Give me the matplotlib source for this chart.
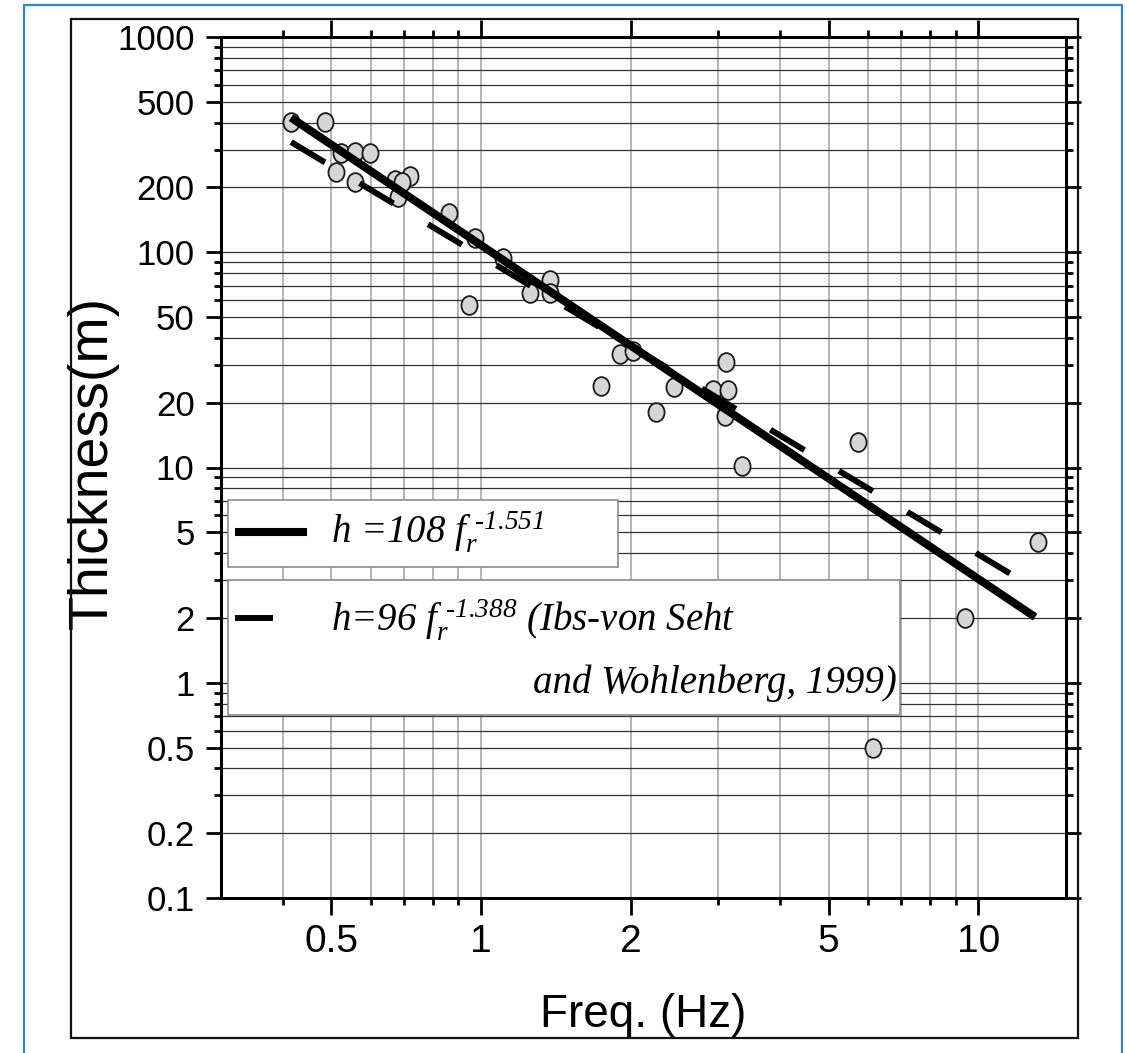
import matplotlib
matplotlib.use('Agg')
import matplotlib.pyplot as plt
import matplotlib.transforms as mtransforms
from matplotlib.path import Path
from matplotlib.patches import Rectangle
from matplotlib.lines import Line2D
from matplotlib.ticker import FixedLocator, FixedFormatter, NullFormatter

plt.rcParams['font.family'] = 'Liberation Sans'
plt.rcParams['mathtext.fontset'] = 'custom'
plt.rcParams['mathtext.rm'] = 'Liberation Serif:italic'
plt.rcParams['mathtext.it'] = 'Liberation Serif:italic'
plt.rcParams['lines.scale_dashes'] = False

# measured resonance frequency vs sediment thickness
freq = [0.415, 0.486, 0.523, 0.559, 0.597, 0.511, 0.559, 0.670, 0.719, 0.695,
        0.681, 0.863, 0.974, 1.106, 0.947, 1.378, 1.252, 1.374, 1.903, 2.02,
        1.74, 2.44, 2.25, 3.11, 2.93, 3.13, 3.10, 3.35, 5.72, 13.2, 9.4, 6.15]
thick = [401, 401, 289, 292, 289, 236, 213, 217, 227, 211,
         181, 152, 117, 94, 57, 74, 64.6, 64.6, 33.6, 34.8,
         24, 23.6, 18.1, 30.9, 23, 23, 17.4, 10.2, 13.2, 4.49, 2.0, 0.497]

# end points of the two power-law lines
fit_f = [0.415, 13.0]
fit_h = [422, 2.02]
ref_f = [0.415, 11.7]
ref_h = [325, 3.17]

fit_label = 'h =108 ' + '$f_r^{\\ \u2010 1.551}$'
ref_label1 = 'h=96 ' + '$f_r^{\\ \u2010 1.388}$' + ' (Ibs-von Seht'
ref_label2 = 'and Wohlenberg, 1999)'

x_major = [0.5, 1, 2, 5, 10]
x_labels = ['0.5', '1', '2', '5', '10']
x_minor = [0.4, 0.6, 0.7, 0.8, 0.9, 3, 4, 6, 7, 8, 9]
y_major = [0.1, 0.2, 0.5, 1, 2, 5, 10, 20, 50, 100, 200, 500, 1000]
y_labels = ['0.1', '0.2', '0.5', '1', '2', '5', '10', '20', '50', '100', '200', '500', '1000']
y_minor = [0.3, 0.4, 0.6, 0.7, 0.8, 0.9, 3, 4, 6, 7, 8, 9,
           30, 40, 60, 70, 80, 90, 300, 400, 600, 700, 800, 900]

W, H = 1129, 1053
fig = plt.figure(figsize=(W / 100, H / 100), dpi=100)


def fx(x):
    return x / W


def fy(y):
    return 1 - y / H


# outer frames
fig.add_artist(Rectangle((fx(24), fy(1060)), fx(1122) - fx(24), fy(5) - fy(1060),
                         transform=fig.transFigure, fill=False, ec='#2f86d8', lw=1.6))
fig.add_artist(Rectangle((fx(71), fy(1038)), fx(1078) - fx(71), fy(19) - fy(1038),
                         transform=fig.transFigure, fill=False, ec='#111111', lw=1.6))

ax = fig.add_axes([fx(221), fy(898), fx(1066) - fx(221), fy(37) - fy(898)])
ax.set_xscale('log')
ax.set_yscale('log')
ax.set_xlim(0.3, 15)
ax.set_ylim(0.1, 1000)

ax.xaxis.set_major_locator(FixedLocator(x_major))
ax.xaxis.set_major_formatter(FixedFormatter(x_labels))
ax.xaxis.set_minor_locator(FixedLocator(x_minor))
ax.xaxis.set_minor_formatter(NullFormatter())
ax.yaxis.set_major_locator(FixedLocator(y_major))
ax.yaxis.set_major_formatter(FixedFormatter(y_labels))
ax.yaxis.set_minor_locator(FixedLocator(y_minor))
ax.yaxis.set_minor_formatter(NullFormatter())

ax.grid(True, which='both', axis='x', color='#b0b0b0', lw=1.3)
ax.grid(True, which='both', axis='y', color='#333333', lw=0.9)
ax.set_axisbelow(True)

ax.tick_params(which='both', direction='out', top=True, right=True, width=2, color='black')
ax.tick_params(which='major', length=11)
ax.tick_params(which='minor', length=5)
ax.tick_params(axis='x', which='major', top=True, length=12)
ax.tick_params(axis='y', labelsize=25, pad=8)
ax.tick_params(axis='x', labelsize=28, pad=7)
for s in ax.spines.values():
    s.set_linewidth(2.2)

ax.set_xlabel('Freq. (Hz)', fontsize=33)
ax.xaxis.set_label_coords(0.5, -0.11)
ax.set_ylabel('Thickness(m)', fontsize=40)
ax.yaxis.set_label_coords(-0.121, 0.506)

# data points as slightly tall ellipses
ell = Path.unit_circle().transformed(mtransforms.Affine2D().scale(0.86, 1.0))
ax.plot(freq, thick, ls='none', marker=ell, ms=13.5, mfc='#d6d6d6', mec='#1a1a1a',
        mew=1.3, zorder=4)

ax.plot(fit_f, fit_h, color='black', lw=5.8, solid_capstyle='butt', zorder=5)
ax.plot(ref_f, ref_h, color='black', lw=4.3, dashes=(28.5, 29), dash_capstyle='butt',
        zorder=5)

# legend boxes drawn by hand
fig.add_artist(Rectangle((fx(228), fy(567)), fx(618) - fx(228), fy(500) - fy(567),
                         transform=fig.transFigure, fc='white', ec='#8c8c8c', lw=1.2))
fig.add_artist(Rectangle((fx(228), fy(715)), fx(900) - fx(228), fy(580) - fy(715),
                         transform=fig.transFigure, fc='white', ec='#8c8c8c', lw=1.2))
fig.add_artist(Line2D([fx(235), fx(307)], [fy(532), fy(532)], transform=fig.transFigure,
                      color='black', lw=5.8, solid_capstyle='butt'))
fig.add_artist(Line2D([fx(235), fx(273)], [fy(618), fy(618)], transform=fig.transFigure,
                      color='black', lw=4.3, solid_capstyle='butt'))

lg = dict(fontsize=28, family='Liberation Serif', style='italic')
fig.text(fx(331), fy(532), fit_label, ha='left', va='center', **lg)
fig.text(fx(331), fy(620), ref_label1, ha='left', va='center', **lg)
fig.text(fx(897), fy(683), ref_label2, ha='right', va='center', **lg)

fig.savefig('out.png', dpi=100)
